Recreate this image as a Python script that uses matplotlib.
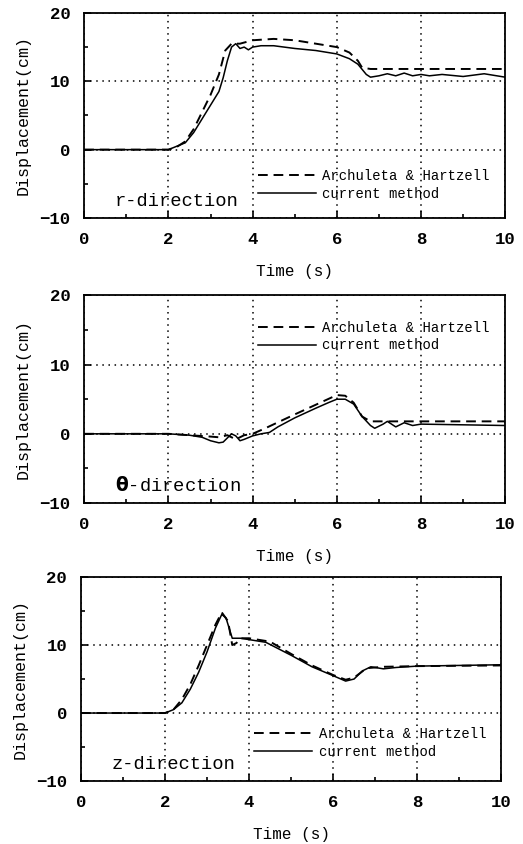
import numpy as np
import matplotlib
matplotlib.use('Agg')
from matplotlib import pyplot as plt

plt.rcParams['font.family'] = ['Liberation Mono', 'DejaVu Sans Mono']

# r-direction
r_t_cur = [0, 2.0, 2.2, 2.4, 2.6, 2.8, 3.0, 3.2, 3.3, 3.4, 3.5, 3.6, 3.7, 3.8, 3.9, 4.0,
           4.2, 4.5, 5.0, 5.5, 6.0, 6.3, 6.5, 6.7, 6.8, 7.0, 7.2, 7.4, 7.6, 7.8, 8.0,
           8.2, 8.5, 9.0, 9.5, 10.0]
r_cur = [0, 0, 0.5, 1.0, 2.5, 4.5, 6.5, 8.5, 10.5, 13.0, 15.0, 15.5, 14.8, 15.0, 14.6, 15.0,
         15.2, 15.2, 14.8, 14.5, 14.0, 13.3, 12.5, 11.0, 10.6, 10.8, 11.1, 10.8, 11.2, 10.8, 11.0,
         10.8, 11.0, 10.7, 11.1, 10.6]
r_t_ah = [0, 2.0, 2.2, 2.4, 2.6, 2.8, 3.0, 3.2, 3.35, 3.5, 3.7, 4.0, 4.5, 5.0, 5.5, 6.0,
          6.3, 6.5, 6.6, 6.8, 10.0]
r_ah = [0, 0, 0.4, 1.2, 3.0, 5.5, 8.0, 11.0, 14.5, 15.5, 15.5, 16.0, 16.2, 16.0, 15.5, 15.0,
        14.2, 13.0, 12.0, 11.8, 11.8]

# theta-direction
th_t_cur = [0, 2.0, 2.5, 2.8, 3.0, 3.2, 3.3, 3.5, 3.6, 3.7, 3.8, 4.0, 4.2, 4.4, 4.6, 5.0,
            5.5, 5.8, 6.0, 6.2, 6.4, 6.6, 6.8, 6.9, 7.1, 7.2, 7.4, 7.6, 7.8, 8.0, 9.0, 10.0]
th_cur = [0, 0, -0.2, -0.5, -1.0, -1.3, -1.2, 0, -0.3, -1.0, -0.8, -0.3, 0, 0.2, 1.0, 2.3,
          3.7, 4.5, 5.0, 5.0, 4.3, 2.5, 1.2, 0.8, 1.4, 1.8, 1.0, 1.6, 1.2, 1.4, 1.3, 1.2]
th_t_ah = [0, 2.0, 2.5, 3.0, 3.2, 3.4, 3.6, 3.8, 4.0, 4.3, 5.0, 5.5, 6.0, 6.2, 6.4, 6.6,
           6.8, 10.0]
th_ah = [0, 0, -0.2, -0.4, -0.5, -0.2, -0.8, -0.2, 0, 0.8, 2.8, 4.2, 5.6, 5.5, 4.5, 2.5,
         1.8, 1.8]

# z-direction
z_t_cur = [0, 2.0, 2.2, 2.4, 2.6, 2.8, 3.0, 3.2, 3.35, 3.45, 3.6, 3.8, 4.0, 4.4, 5.0, 5.5,
           6.0, 6.3, 6.5, 6.7, 6.9, 7.2, 7.5, 8.0, 9.0, 10.0]
z_cur = [0, 0, 0.5, 1.5, 3.5, 6.0, 9.0, 12.5, 14.5, 14.0, 11.0, 11.0, 10.8, 10.4, 8.5, 6.8,
         5.5, 4.7, 5.0, 6.2, 6.8, 6.5, 6.7, 6.9, 7.0, 7.1]
z_t_ah = [0, 2.0, 2.2, 2.4, 2.6, 2.8, 3.0, 3.2, 3.35, 3.5, 3.6, 3.7, 3.8, 4.0, 4.5, 5.0,
          5.5, 6.0, 6.3, 6.5, 6.8, 7.2, 8.0, 10.0]
z_ah = [0, 0, 0.5, 2.0, 4.2, 7.0, 10.0, 13.0, 14.8, 13.5, 10.0, 10.3, 11.0, 11.0, 10.5, 8.7,
        7.0, 5.6, 4.9, 5.2, 6.6, 6.8, 6.9, 7.0]

panels = [
    ('r-direction', r_t_ah, r_ah, r_t_cur, r_cur, [0.161, 0.7417, 0.805, 0.243], 0.085),
    (r'$\mathbf{\theta}$-direction', th_t_ah, th_ah, th_t_cur, th_cur, [0.161, 0.404, 0.805, 0.246], 0.725),
    ('z-direction', z_t_ah, z_ah, z_t_cur, z_cur, [0.155, 0.0746, 0.803, 0.2417], 0.11),
]

fig = plt.figure(figsize=(5.23, 8.44), dpi=100)

for label, ta, ya, tc, yc, pos, leg_y in panels:
    ax = fig.add_axes(pos)
    ax.plot(ta, ya, color='black', linestyle=(0, (5, 3)), linewidth=1.4,
            label='Archuleta & Hartzell')
    ax.plot(tc, yc, color='black', linestyle='-', linewidth=1.1, label='current method')
    ax.set_xlim(0, 10)
    ax.set_ylim(-10, 20)
    ax.set_xticks([0, 2, 4, 6, 8, 10])
    ax.set_yticks([-10, 0, 10, 20])
    ax.set_xticks(np.arange(0, 11, 1), minor=True)
    ax.set_yticks([-5, 5, 15], minor=True)
    ax.tick_params(direction='in', which='both', labelsize=12.5, width=1.2)
    ax.tick_params(which='major', length=5, pad=10)
    ax.tick_params(which='minor', length=3)
    for t in ax.get_xticklabels() + ax.get_yticklabels():
        t.set_fontweight('bold')
    ax.grid(True, which='major', linestyle=(0, (1, 3)), color='black', linewidth=1.1)
    for s in ax.spines.values():
        s.set_linewidth(1.3)
    ax.set_xlabel('Time (s)', fontsize=11.5, labelpad=12)
    ax.set_ylabel('Displacement(cm)', fontsize=12, labelpad=6)
    ax.legend(loc='lower left', bbox_to_anchor=(0.412, leg_y), frameon=False,
              fontsize=10, handlelength=4.2, handletextpad=0.45, labelspacing=0.28,
              borderaxespad=0.0, borderpad=0.0)
    ax.text(0.072, 0.04, label, transform=ax.transAxes, fontsize=13.5, ha='left', va='bottom')

fig.savefig('out.png', dpi=100)
